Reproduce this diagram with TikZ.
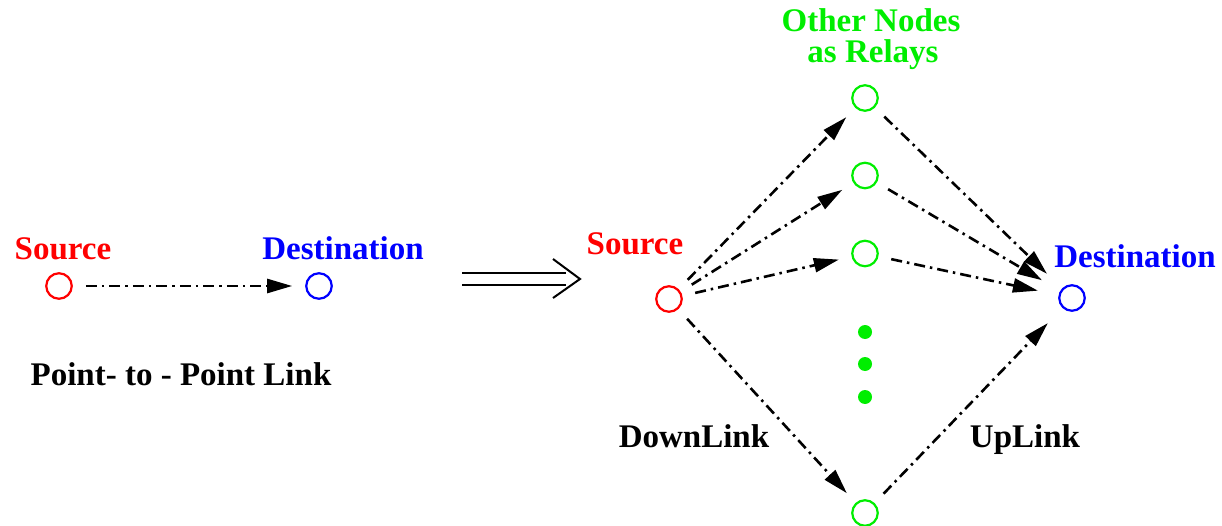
\documentclass[tikz,border=0pt]{standalone}
\usepackage{fontspec}
\setmainfont{Liberation Serif}[BoldFont={Liberation Serif Bold}]
\newfontfamily\capfont{Liberation Serif Bold}
\usetikzlibrary{arrows.meta}
\definecolor{nodered}{RGB}{255,0,0}
\definecolor{nodeblue}{RGB}{0,0,255}
\definecolor{nodegreen}{RGB}{0,238,0}
\tikzset{
  station/.style={circle, draw=#1, line width=2.2pt, inner sep=0pt, minimum size=25.5pt},
  caption/.style={anchor=base, inner sep=0pt, font=\capfont\fontsize{33}{38}\selectfont},
  relaydot/.style={circle, fill=nodegreen, inner sep=0pt, minimum size=14pt},
  link/.style={line width=2.6pt, dash pattern=on 11pt off 5pt on 2.5pt off 5pt,
    -{Triangle[length=25pt,width=14pt]}, shorten <=13pt, shorten >=13pt},
  tofar/.style={shorten >=21pt}
}
\begin{document}
\begin{tikzpicture}[x=1pt,y=-1pt]
\useasboundingbox (0,0) rectangle (1222,526);

% point-to-point link
\node[station=nodered] (s1) at (59,286) {};
\node[station=nodeblue] (d1) at (319,286) {};
\node[caption, text=nodered] at (63,260) {Source};
\node[caption, text=nodeblue] at (343,260) {Destination};
\draw[link] (s1) -- (d1);
\node[caption] at (181,385) {Point- to - Point Link};

% implication arrow
\coordinate (ia) at (462,279);
\coordinate (ib) at (566,279);
\coordinate (ic) at (580,279);
\draw[line width=2pt] ([yshift=-6pt]ia) -- ([yshift=-6pt]ib);
\draw[line width=2pt] ([yshift=6pt]ia) -- ([yshift=6pt]ib);
\draw[line width=2pt, line join=miter] ([xshift=-27pt,yshift=-19pt]ic) -- (ic) -- ([xshift=-27pt,yshift=20pt]ic);

% relay network
\node[station=nodered] (s2) at (669,299) {};
\node[station=nodeblue] (d2) at (1072,298) {};
\node[station=nodegreen] (r1) at (865,98) {};
\node[station=nodegreen] (r2) at (865,175.5) {};
\node[station=nodegreen] (r3) at (865,253.5) {};
\node[station=nodegreen] (r4) at (865,513) {};
\node[relaydot] (p1) at (865,332) {};
\node[relaydot] (p2) at (865,364) {};
\node[relaydot] (p3) at (865,397) {};

\node[caption, text=nodered] at (635,255) {Source};
\node[caption, text=nodeblue] at (1135,268) {Destination};
\node[caption, text=nodegreen] at (871,32) {Other Nodes};
\node[caption, text=nodegreen] at (873,63) {as Relays};
\node[caption] at (694,447) {DownLink};
\node[caption] at (1025,447) {UpLink};

\draw[link] (s2) -- (r1);
\draw[link] (s2) -- (r2);
\draw[link] (s2) -- (r3);
\draw[link] (s2) -- (r4);
\draw[link, tofar] (r1) -- (d2);
\draw[link, tofar] (r2) -- (d2);
\draw[link, tofar] (r3) -- (d2);
\draw[link, tofar] (r4) -- (d2);
\end{tikzpicture}
\end{document}
